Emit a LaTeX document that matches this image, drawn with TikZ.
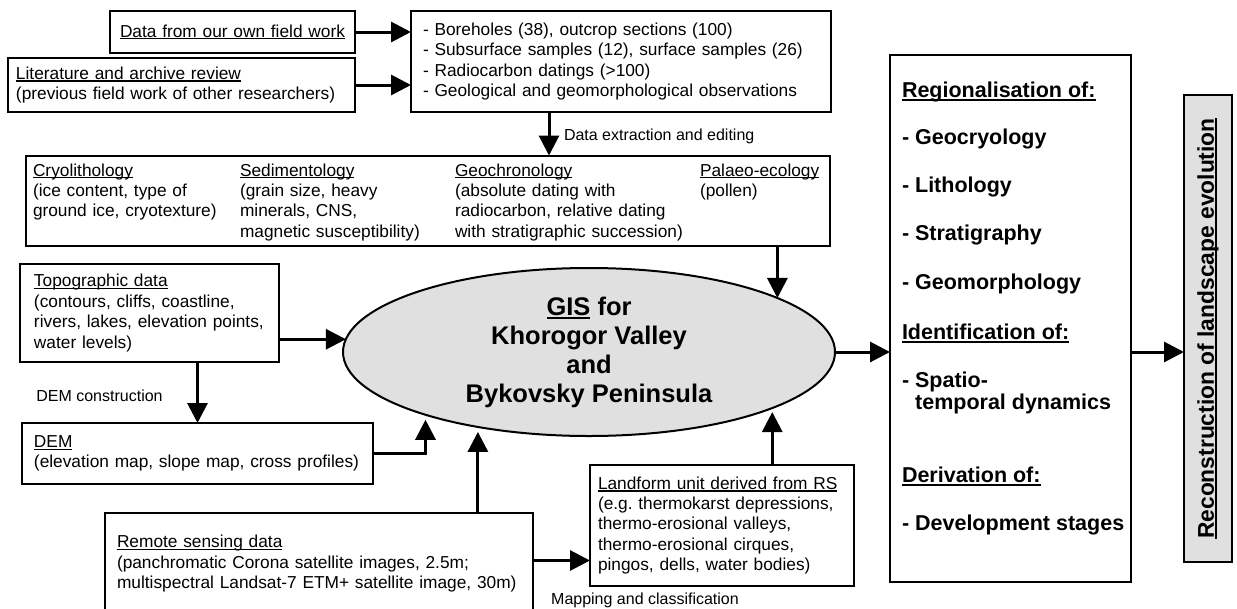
\documentclass[tikz,border=0pt]{standalone}
\usepackage{fontspec}
\setmainfont{Liberation Sans}
\usetikzlibrary{arrows.meta,shapes.geometric}

\newsavebox\ulbox
\newcommand\ulin[1]{\sbox\ulbox{#1}\rlap{\rule[-0.14em]{\wd\ulbox}{0.075em}}\usebox\ulbox}
\newcommand\bodyfont{\fontsize{17.3}{20.4}\selectfont}
\newcommand\headfont{\fontsize{21.5}{24}\selectfont\bfseries}
\newcommand\lblfont{\fontsize{16}{18}\selectfont}
\definecolor{gisgray}{RGB}{224,224,224}

\begin{document}
\begin{tikzpicture}[x=1pt,y=-1pt,every node/.style={outer sep=0pt},
		infobox/.style={draw,line width=2pt,align=left,font=\bodyfont,inner ysep=0pt},
		flow/.style={line width=3pt,-{Triangle[length=20pt,width=20pt]}},
		lbl/.style={font=\lblfont,inner sep=0pt}]
		\useasboundingbox (0,0) rectangle (1237,608);
		
		% Sources of field data
		\node[infobox,text width=225pt,inner xsep=10pt,minimum height=42pt] (fieldwork) at (232.5,32) {\ulin{Data from our own field work}};
		\node[infobox,text width=331pt,inner xsep=8pt,minimum height=54pt] (literature) at (181.5,85) {\ulin{Literature and archive review}\\(previous field work of other researchers)};
		\node[infobox,text width=396pt,inner xsep=12pt,minimum height=101pt] (boreholes) at (621,61.5) {- Boreholes (38), outcrop sections (100)\\- Subsurface samples (12), surface samples (26)\\- Radiocarbon datings (>100)\\- Geological and geomorphological observations};
		
		% Proxy box with its four columns
		\node[draw,line width=2pt,minimum width=804pt,minimum height=90pt] (proxy) at (428,200.5) {};
		\node[font=\bodyfont,align=left,text width=200pt,anchor=base west,inner sep=0pt] (cryo) at (33,176) {\ulin{Cryolithology}\\(ice content, type of\\ground ice, cryotexture)};
		\node[font=\bodyfont,align=left,text width=205pt,anchor=base west,inner sep=0pt] (sedi) at (240,176) {\ulin{Sedimentology}\\(grain size, heavy\\minerals, CNS,\\magnetic susceptibility)};
		\node[font=\bodyfont,align=left,text width=240pt,anchor=base west,inner sep=0pt] (geochron) at (455,176) {\ulin{Geochronology}\\(absolute dating with\\radiocarbon, relative dating\\with stratigraphic succession)};
		\node[font=\bodyfont,align=left,text width=125pt,anchor=base west,inner sep=0pt] (palaeo) at (700,176) {\ulin{Palaeo-ecology}\\(pollen)};
		
		% Topography, DEM, remote sensing
		\node[infobox,text width=231pt,inner xsep=14pt,minimum height=98pt] (topo) at (149.5,313) {\ulin{Topographic data}\\(contours, cliffs, coastline,\\rivers, lakes, elevation points,\\water levels)};
		\node[infobox,text width=327pt,inner xsep=12pt,minimum height=61pt] (dem) at (197.5,453.5) {\ulin{DEM}\\(elevation map, slope map, cross profiles)};
		\node[infobox,text width=404pt,inner xsep=12pt,minimum height=118pt] (rs) at (319,572) {\ulin{Remote sensing data}\\(panchromatic Corona satellite images, 2.5m;\\multispectral Landsat-7 ETM+ satellite image, 30m)\\\mbox{}};
		\node[infobox,text width=248pt,inner xsep=8pt,minimum height=121pt] (landform) at (722,525.5) {\ulin{Landform unit derived from RS}\\(e.g.\ thermokarst depressions,\\thermo-erosional valleys,\\thermo-erosional cirques,\\pingos, dells, water bodies)};
		
		% The GIS in the middle
		\node[ellipse,draw,line width=2pt,fill=gisgray,minimum width=492pt,minimum height=168pt,inner sep=0pt,align=center,font=\fontsize{25.5}{29}\selectfont\bfseries] (gis) at (589,352) {\ulin{GIS} for\\Khorogor Valley\\and\\Bykovsky Peninsula};
		
		% Results
		\node[draw,line width=2pt,minimum width=241pt,minimum height=527pt] (summary) at (1010.5,318.5) {};
		\foreach \y/\txt [count=\i] in {97.5/{\ulin{Regionalisation of:}}, 144.5/- Geocryology, 192.5/- Lithology, 240.5/- Stratigraphy, 289.5/- Geomorphology, 339.5/{\ulin{Identification of:}}, 387.5/- Spatio-, 409.5/{\hphantom{- }temporal dynamics}, 482.5/{\ulin{Derivation of:}}, 530.5/- Development stages}{
			\node[font=\headfont,anchor=base west,inner sep=0pt] (item\i) at (902,\y) {\txt};% One line of the list
		}
		\node[draw,line width=2pt,fill=gisgray,minimum width=48pt,minimum height=467pt] (recon) at (1208,328.5) {};
		\node[rotate=90,font=\fontsize{22.8}{26}\selectfont\bfseries,inner sep=0pt] (recontext) at (recon.center) {\ulin{Reconstruction of landscape evolution}};
		
		% Labels of the steps
		\node[lbl,anchor=west] (extractlbl) at (564,136) {Data extraction and editing};
		\node[lbl] (demlbl) at (99.5,396) {DEM construction};
		\node[lbl] (maplbl) at (645,600) {Mapping and classification};
		
		% Arrows
		\draw[flow] (fieldwork.east) -- (fieldwork.east -| boreholes.west);
		\draw[flow] (literature.east) -- (literature.east -| boreholes.west);
		\draw[flow] ([xshift=-72pt]boreholes.south) -- ([xshift=-72pt]boreholes.south |- proxy.north);
		\draw[flow] (gis.16 |- proxy.south) -- (gis.16);
		\draw[flow] (gis.177 -| topo.east) -- (gis.177);
		\draw[flow] (dem.north |- topo.south) -- (dem.north);
		\draw[flow,shorten >=5pt] (dem.east) -| (gis.201.9);
		\draw[flow,shorten >=5pt] (gis.214.5 |- rs.north) -- (gis.214.5);
		\draw[flow] ([yshift=11.5pt]rs.east) -- ([yshift=11.5pt]rs.east -| landform.west);
		\draw[flow,shorten >=4pt] (gis.343 |- landform.north) -- (gis.343);
		\draw[flow] (gis.east) -- (gis.east -| summary.west);
		\draw[flow] (gis.east -| summary.east) -- (gis.east -| recon.west);
	\end{tikzpicture}
\end{document}
